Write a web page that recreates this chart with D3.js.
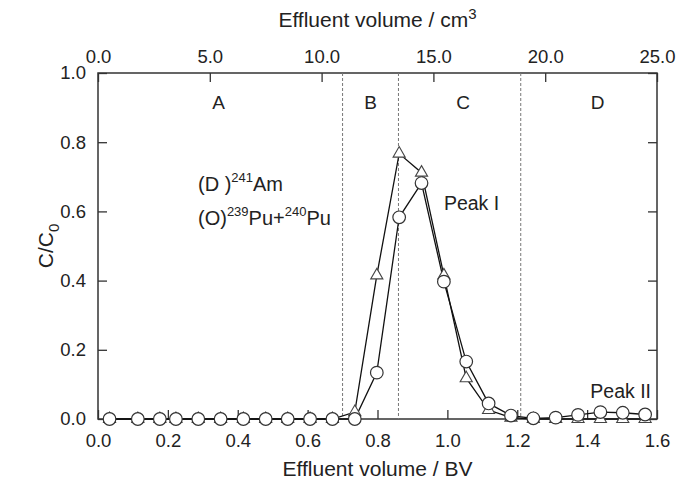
<!DOCTYPE html>
<html>
<head>
<meta charset="utf-8">
<script src="https://cdn.jsdelivr.net/npm/d3@7"></script>
<style>
body { margin: 0; background: #fff; }
text { font-family: "Liberation Sans", Arial, sans-serif; fill: #222; }
</style>
</head>
<body>
<svg id="chart"></svg>
<script>
// effluent volume (BV) of each fraction
const bv = [0.033, 0.114, 0.177, 0.223, 0.287, 0.351, 0.416, 0.480, 0.543, 0.607, 0.671, 0.735,
	0.798, 0.862, 0.926, 0.990, 1.054, 1.118, 1.182, 1.246, 1.310, 1.374, 1.438, 1.502, 1.566];
// C/C0 for 241Am (triangles)
const am241 = [0, 0, 0, 0, 0, 0, 0, 0, 0, 0, 0, 0.02,
	0.415, 0.767, 0.712, 0.415, 0.118, 0.026, 0.004, 0, 0, 0, 0, 0, 0];
// C/C0 for 239Pu+240Pu (circles)
const pu = [0, 0, 0, 0, 0, 0, 0, 0, 0, 0, 0, 0,
	0.134, 0.583, 0.682, 0.397, 0.166, 0.045, 0.01, 0.002, 0.004, 0.012, 0.02, 0.018, 0.013];

const xTicks = [0, 0.2, 0.4, 0.6, 0.8, 1.0, 1.2, 1.4, 1.6];
const yTicks = [0, 0.2, 0.4, 0.6, 0.8, 1.0];
const cmTicks = [0, 5, 10, 15, 20, 25];
const boundaries = [0.70, 0.86, 1.21];
const regionNames = ["A", "B", "C", "D"];
const regionPos = [0.345, 0.78, 1.045, 1.43];

const W = 677, H = 480;
const margin = { top: 73, right: 20, bottom: 61, left: 98 };
const width = W - margin.left - margin.right;
const height = H - margin.top - margin.bottom;

const svg = d3.select("#chart")
	.attr("width", W)
	.attr("height", H)
	.append("g")
	.attr("transform", `translate(${margin.left}, ${margin.top})`);

const x = d3.scaleLinear().domain([0, 1.6]).range([0, width]);
const xTop = d3.scaleLinear().domain([0, 25]).range([0, width]);
const y = d3.scaleLinear().domain([0, 1]).range([height, 0]);

const fmt = d3.format(".1f");

// axes, ticks pointing inward
const gx = svg.append("g")
	.attr("transform", `translate(0, ${height})`)
	.call(d3.axisBottom(x).tickValues(xTicks).tickFormat(fmt).tickSizeInner(-9).tickSizeOuter(0).tickPadding(15));
const gy = svg.append("g")
	.call(d3.axisLeft(y).tickValues(yTicks).tickFormat(fmt).tickSizeInner(-9).tickSizeOuter(0).tickPadding(12));
const gt = svg.append("g")
	.call(d3.axisTop(xTop).tickValues(cmTicks).tickFormat(fmt).tickSizeInner(-9).tickSizeOuter(0).tickPadding(10));
const gr = svg.append("g")
	.attr("transform", `translate(${width}, 0)`)
	.call(d3.axisRight(y).tickValues(yTicks).tickFormat("").tickSizeInner(-9).tickSizeOuter(0));

[gx, gy, gt, gr].forEach(g => {
	g.select(".domain").remove();
	g.selectAll(".tick line").attr("stroke", "#333").attr("stroke-width", 1.3);
	g.selectAll("text").attr("font-size", 18.5).attr("fill", "#222")
		.attr("font-family", "'Liberation Sans', Arial, sans-serif");
});

// frame
svg.append("rect")
	.attr("width", width)
	.attr("height", height)
	.attr("fill", "none")
	.attr("stroke", "#333")
	.attr("stroke-width", 1.5);

// region boundaries
svg.selectAll(".bound")
	.data(boundaries)
	.enter()
	.append("line")
	.attr("x1", d => x(d)).attr("x2", d => x(d))
	.attr("y1", 0).attr("y2", height)
	.attr("stroke", "#777")
	.attr("stroke-width", 1)
	.attr("stroke-dasharray", "3,2");

svg.selectAll(".region")
	.data(regionNames)
	.enter()
	.append("text")
	.attr("x", (d, i) => x(regionPos[i]))
	.attr("y", y(0.9) + 1)
	.attr("text-anchor", "middle")
	.attr("font-size", 19)
	.text(d => d);

// series
const pts = arr => arr.map((v, i) => [bv[i], v]);
const line = d3.line().x(d => x(d[0])).y(d => y(d[1]));

svg.append("path")
	.datum(pts(am241))
	.attr("d", line)
	.attr("fill", "none")
	.attr("stroke", "#111")
	.attr("stroke-width", 1.3);
svg.append("path")
	.datum(pts(pu))
	.attr("d", line)
	.attr("fill", "none")
	.attr("stroke", "#111")
	.attr("stroke-width", 1.3);

svg.selectAll(".tri")
	.data(pts(am241))
	.enter()
	.append("path")
	.attr("d", d3.symbol().type(d3.symbolTriangle).size(64))
	.attr("transform", d => `translate(${x(d[0])}, ${y(d[1])})`)
	.attr("fill", "#fff")
	.attr("stroke", "#444")
	.attr("stroke-width", 1.1);

svg.selectAll(".circ")
	.data(pts(pu))
	.enter()
	.append("circle")
	.attr("cx", d => x(d[0]))
	.attr("cy", d => y(d[1]))
	.attr("r", 6.3)
	.attr("fill", "#fff")
	.attr("stroke", "#333")
	.attr("stroke-width", 1.2);

// legend text
const leg1 = svg.append("text").attr("x", 100).attr("y", 118).attr("font-size", 20);
leg1.append("tspan").text("(D )");
leg1.append("tspan").attr("font-size", 13).attr("dy", -9).text("241");
leg1.append("tspan").attr("dy", 9).text("Am");

const leg2 = svg.append("text").attr("x", 100).attr("y", 152).attr("font-size", 20);
leg2.append("tspan").text("(O)");
leg2.append("tspan").attr("font-size", 13).attr("dy", -9).text("239");
leg2.append("tspan").attr("dy", 9).text("Pu+");
leg2.append("tspan").attr("font-size", 13).attr("dy", -9).text("240");
leg2.append("tspan").attr("dy", 9).text("Pu");

svg.append("text").attr("x", x(0.99)).attr("y", 137).attr("font-size", 19.5).text("Peak I");
svg.append("text").attr("x", x(1.6) - 6).attr("y", 325).attr("font-size", 19.5)
	.attr("text-anchor", "end").text("Peak II");

// axis titles
svg.append("text")
	.attr("x", width / 2).attr("y", height + 57)
	.attr("text-anchor", "middle").attr("font-size", 21)
	.text("Effluent volume / BV");

const tt = svg.append("text")
	.attr("x", width / 2).attr("y", -46)
	.attr("text-anchor", "middle").attr("font-size", 21);
tt.append("tspan").text("Effluent volume / cm");
tt.append("tspan").attr("font-size", 15).attr("dy", -8).text("3");

const tl = svg.append("text")
	.attr("transform", `translate(-45, ${height / 2}) rotate(-90)`)
	.attr("text-anchor", "middle").attr("font-size", 21);
tl.append("tspan").text("C/C");
tl.append("tspan").attr("font-size", 15).attr("dy", 6).text("0");
</script>
</body>
</html>
